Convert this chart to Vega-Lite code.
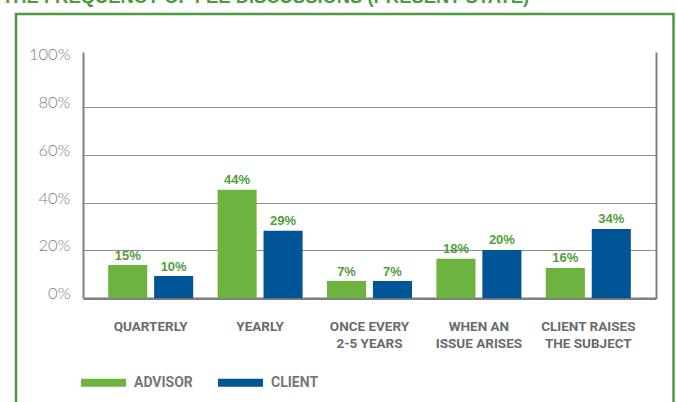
{
  "$schema": "https://vega.github.io/schema/vega-lite/v6.json",
  "autosize": {"type": "none"},
  "padding": {"left": 16, "top": 14, "right": 2.5, "bottom": -10},
  "width": 657.5,
  "height": 398,
  "title": {
    "text": "THE FREQUENCY OF FEE DISCUSSIONS (PRESENT STATE)",
    "anchor": "start",
    "fontSize": 18.4,
    "font": "Liberation Sans",
    "fontWeight": "bold",
    "color": "#4e9a3f",
    "baseline": "alphabetic",
    "offset": 10.5,
    "dy": 18,
    "dx": -14
  },
  "config": {
    "view": {"stroke": "#4e9a3f", "strokeWidth": 2.5}
  },
  "data": {
    "values": [
      {"frequency": "QUARTERLY", "respondent": "ADVISOR", "value": 13.9, "label": "15%"},
      {"frequency": "QUARTERLY", "respondent": "CLIENT", "value": 9.3, "label": "10%"},
      {"frequency": "YEARLY", "respondent": "ADVISOR", "value": 45.4, "label": "44%"},
      {"frequency": "YEARLY", "respondent": "CLIENT", "value": 28.2, "label": "29%"},
      {"frequency": "ONCE EVERY\n2-5 YEARS", "respondent": "ADVISOR", "value": 7.2, "label": "7%"},
      {"frequency": "ONCE EVERY\n2-5 YEARS", "respondent": "CLIENT", "value": 7.2, "label": "7%"},
      {"frequency": "WHEN AN\nISSUE ARISES", "respondent": "ADVISOR", "value": 16.5, "label": "18%"},
      {"frequency": "WHEN AN\nISSUE ARISES", "respondent": "CLIENT", "value": 20.2, "label": "20%"},
      {"frequency": "CLIENT RAISES\nTHE SUBJECT", "respondent": "ADVISOR", "value": 12.7, "label": "16%"},
      {"frequency": "CLIENT RAISES\nTHE SUBJECT", "respondent": "CLIENT", "value": 29.0, "label": "34%"}
    ]
  },
  "encoding": {
    "x": {
      "field": "frequency",
      "type": "nominal",
      "sort": null,
      "scale": {"range": [67, 640], "paddingInner": 0.223, "paddingOuter": 0.23},
      "axis": {
        "orient": "bottom",
        "offset": -113.7,
        "title": null,
        "ticks": false,
        "tickSize": 0,
        "domainColor": "#7f7f7f",
        "domainWidth": 2.5,
        "labelAngle": 0,
        "labelFont": "Roboto",
        "labelFontWeight": "bold",
        "labelFontSize": 13.5,
        "labelColor": "#6b6b6b",
        "labelPadding": 21.5,
        "labelLineHeight": 17,
        "labelBaseline": "top",
        "labelExpr": "split(datum.label, '\\n')"
      }
    },
    "xOffset": {
      "field": "respondent",
      "type": "nominal",
      "sort": ["ADVISOR", "CLIENT"],
      "scale": {"paddingInner": 0.15}
    }
  },
  "layer": [
    {
      "mark": {"type": "bar"},
      "encoding": {
        "y": {
          "field": "value",
          "type": "quantitative",
          "scale": {"domain": [0, 103], "range": [284.3, 38], "nice": false},
          "axis": {
            "orient": "left",
            "offset": -67,
            "title": null,
            "values": [0, 20, 40, 60, 80, 100],
            "labelExpr": "datum.value + '%'",
            "domainColor": "#808080",
            "domainWidth": 2,
            "ticks": false,
            "tickSize": 0,
            "labelPadding": 13,
            "labelFont": "Lato",
            "labelFontWeight": 300,
            "labelFontSize": 16.5,
            "labelColor": "#7c7c7c",
            "labelOffset": -4.5,
            "grid": true,
            "gridColor": "#8c8c8c",
            "gridWidth": 1,
            "gridOpacity": {"condition": {"test": "datum.value == 100", "value": 0}, "value": 1}
          }
        },
        "color": {
          "field": "respondent",
          "type": "nominal",
          "scale": {"domain": ["ADVISOR", "CLIENT"], "range": ["#6db33f", "#005596"]},
          "legend": {
            "title": null,
            "orient": "none",
            "legendX": 65,
            "legendY": 346,
            "direction": "horizontal",
            "symbolType": "M-1,-0.178H1V0.178H-1Z",
            "symbolSize": 2025,
            "symbolStrokeWidth": 0,
            "labelFont": "Roboto",
            "labelFontWeight": "bold",
            "labelFontSize": 14,
            "labelColor": "#777777",
            "labelOffset": 8,
            "columnPadding": 25,
            "padding": 0
          }
        }
      }
    },
    {
      "mark": {
        "type": "text",
        "font": "Liberation Sans",
        "fontWeight": "bold",
        "fontSize": 13,
        "color": "#529e3c",
        "baseline": "alphabetic",
        "dy": -5.5
      },
      "encoding": {
        "y": {
          "field": "value",
          "type": "quantitative",
          "scale": {"domain": [0, 103], "range": [284.3, 38], "nice": false},
          "axis": {
            "orient": "right",
            "offset": -17.5,
            "title": null,
            "labels": false,
            "ticks": false,
            "grid": false,
            "domainColor": "#808080",
            "domainWidth": 2
          }
        },
        "text": {"field": "label"}
      }
    }
  ],
  "resolve": {"axis": {"y": "independent"}}
}
